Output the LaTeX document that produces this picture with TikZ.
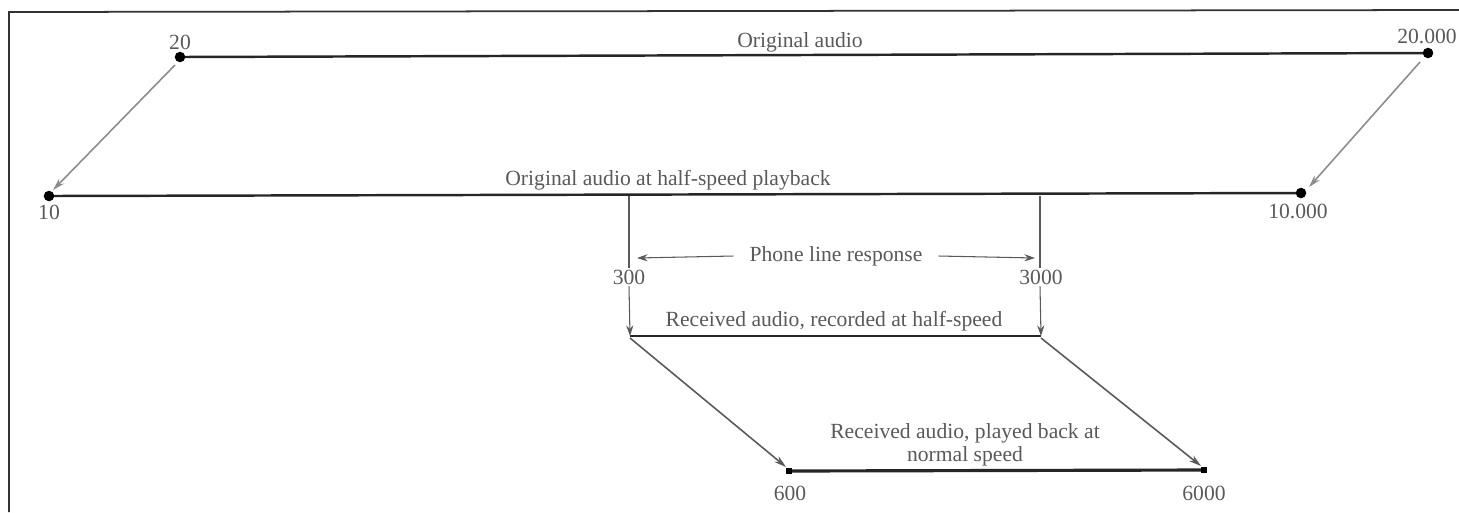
\documentclass[tikz,border=0pt]{standalone}
\usepackage{fontspec}
\setmainfont{Liberation Serif}
\usepackage{tikz}
\usetikzlibrary{positioning, arrows.meta}
\usepackage{xcolor}
\definecolor{inkgray}{gray}{0.35}
\definecolor{arrgray}{gray}{0.55}

\tikzset{
  band/.style={line width=1.4pt, black!85},
  speedarr/.style={arrgray, line width=0.9pt, -{Stealth[length=7pt, width=4pt]}},
  tick/.style={inkgray, line width=0.6pt},
  lbl/.style={text=inkgray, font=\fontsize{12.3}{13}\selectfont, inner sep=1pt},
}

\begin{document}
\begin{tikzpicture}[x=0.02cm, y=-0.02cm]
  \useasboundingbox (0,0) rectangle (1459,512);
  % frame
  \draw[line width=1pt, black!80] (9,512) -- (9,12) -- (1459,10);

  % band end points
  \coordinate (o20)  at (180,57);
  \coordinate (o20k) at (1428,53);
  \coordinate (h10)  at (49,196);
  \coordinate (h10k) at (1301,193);
  \coordinate (h300) at (629,196);
  \coordinate (h3k)  at (1040,196);
  \coordinate (r300) at (630,336);
  \coordinate (r3k)  at (1041,336);
  \coordinate (p600) at (789,471);
  \coordinate (p6k)  at (1204,470);

  % bands
  \draw[band] (o20) -- (o20k);
  \draw[band] (h10) -- (h10k);
  \draw[band] (r300) -- (r3k);
  \draw[band, line width=1.8pt] (p600) -- (p6k);
  \foreach \p in {o20, o20k, h10, h10k}
    \fill (\p) circle (3pt);
  \foreach \p in {p600, p6k}
    \fill (\p) ++(-3,-3) rectangle ++(6,6);

  % labels
  \node[lbl] (t20)  at (180,42) {20};
  \node[lbl] (t20k) at (1427,36) {20.000};
  \node[lbl] (torig) at (800,42) {Original audio};
  \node[lbl] (t10)  at (49,212) {10};
  \node[lbl] (t10k) at (1298,211) {10.000};
  \node[lbl] (thalf) at (668,180) {Original audio at half-speed playback};
  \node[lbl] (t300) at (629,277) {300};
  \node[lbl] (t3k)  at (1041,277) {3000};
  \node[lbl] (tphone) at (836,256) {Phone line response};
  \node[lbl] (trec) at (834,321) {Received audio, recorded at half-speed};
  \node[lbl, align=center] (tplay) at (965,445) {Received audio, played back at\\normal speed};
  \node[lbl] (t600) at (790,493) {600};
  \node[lbl] (t6k)  at (1204,493) {6000};

  % half-speed shifts
  \draw[speedarr] ([shift={(-5,8)}]o20) -- ([shift={(4,-6)}]h10);
  \draw[speedarr] ([shift={(-8,9)}]o20k) -- ([shift={(8,-6)}]h10k);

  % phone line band limits
  \draw[tick] (h300) -- (t300.north);
  \draw[tick, -{Stealth[length=6pt, width=4pt]}] (t300.south) -- (r300);
  \draw[tick] (h3k) -- (t3k.north -| h3k);
  \draw[tick, -{Stealth[length=6pt, width=4pt]}] (t3k.south -| h3k) -- (r3k);
  \coordinate (ph1) at (637,258);
  \coordinate (ph2) at (1035,258);
  \draw[tick, -{Stealth[length=6pt, width=4pt]}] ([xshift=-8pt]tphone.west) -- (ph1);
  \draw[tick, -{Stealth[length=6pt, width=4pt]}] ([xshift=8pt]tphone.east) -- (ph2);

  % normal-speed playback
  \draw[speedarr, inkgray] ([shift={(0,2)}]r300) -- ([shift={(-3,-4)}]p600);
  \draw[speedarr, inkgray] ([shift={(0,2)}]r3k) -- ([shift={(-3,-4)}]p6k);
\end{tikzpicture}
\end{document}
